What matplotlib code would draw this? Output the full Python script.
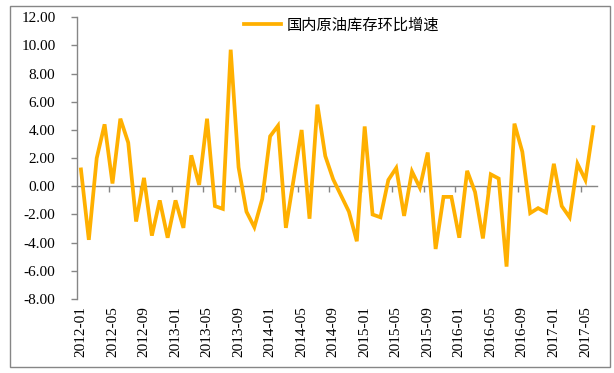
import matplotlib
matplotlib.use("Agg")
import matplotlib.pyplot as plt
from matplotlib.patches import Rectangle

# monthly labels 2012-01 .. 2017-06
months = [f"{y}-{m:02d}" for y in range(2012, 2018) for m in range(1, 13)][:66]
values = [1.2, -3.8, 2.0, 4.4, 0.2, 4.8, 3.1, -2.5, 0.6, -3.5, -1.0, -3.65,
          -1.0, -2.95, 2.2, 0.1, 4.8, -1.4, -1.6, 9.7, 1.35, -1.8, -2.9, -0.9,
          3.55, 4.3, -2.95, 0.55, 4.0, -2.3, 5.8, 2.15, 0.5, -0.65, -1.8, -3.9,
          4.25, -2.0, -2.2, 0.45, 1.3, -2.1, 1.05, -0.1, 2.4, -4.45, -0.75, -0.75,
          -3.65, 1.1, -0.4, -3.7, 0.85, 0.55, -5.7, 4.45, 2.45, -1.9, -1.55, -1.85,
          1.6, -1.4, -2.2, 1.6, 0.45, 4.2]
series_name = "国内原油库存环比增速"
yticks = [-8, -6, -4, -2, 0, 2, 4, 6, 8, 10, 12]

plt.rcParams['font.family'] = ['Liberation Serif', 'Noto Sans CJK SC']

fig = plt.figure(figsize=(6.14, 3.73), dpi=100)
ax = fig.add_axes([77/614, 1 - 299/373, (597.2 - 77)/614, (299 - 17.3)/373])

x = list(range(len(values)))
line, = ax.plot(x, values, color='#FFB000', linewidth=2.7, zorder=3,
                solid_joinstyle='miter', label=series_name)

n = len(values)
ax.set_xlim(-0.5, n - 0.5)
ax.set_ylim(-8, 12)
ax.set_yticks(yticks)
ax.set_yticklabels([f"{v:.2f}" for v in yticks])
grey = '#868686'
for s in ['top', 'right']:
    ax.spines[s].set_visible(False)
ax.spines['left'].set_color(grey)
ax.spines['bottom'].set_color(grey)
ax.spines['bottom'].set_position(('data', 0))
ax.spines['left'].set_linewidth(1.0)
ax.spines['bottom'].set_linewidth(1.0)
ax.tick_params(axis='y', direction='out', length=4.5, width=1, color=grey,
               pad=11, labelsize=11, labelcolor='black')

# tick marks between categories on the zero line
ax.set_xticks([i - 0.5 for i in range(4, n, 4)])
ax.tick_params(axis='x', direction='out', length=4, width=1, color=grey,
               labelbottom=False)

# labels at the bottom
sec = ax.secondary_xaxis(0.0)
sec.spines['bottom'].set_visible(False)
sec.set_xticks(list(range(0, n, 4)))
sec.set_xticklabels([months[i] for i in range(0, n, 4)], rotation=90)
sec.tick_params(axis='x', length=0, pad=5, labelsize=11, labelcolor='black')

leg = fig.legend(handles=[line], loc='center',
                 bbox_to_anchor=(342/614, 1 - 25/373),
                 frameon=False, handlelength=2.4, handletextpad=0.4,
                 prop={'family': ['Noto Sans CJK SC'], 'size': 11})

fig.patches.append(Rectangle((10/614, 6/373), 600/614, 361/373,
                             transform=fig.transFigure, fill=False,
                             edgecolor=grey, linewidth=1.0))

fig.savefig("out.png", dpi=100)
